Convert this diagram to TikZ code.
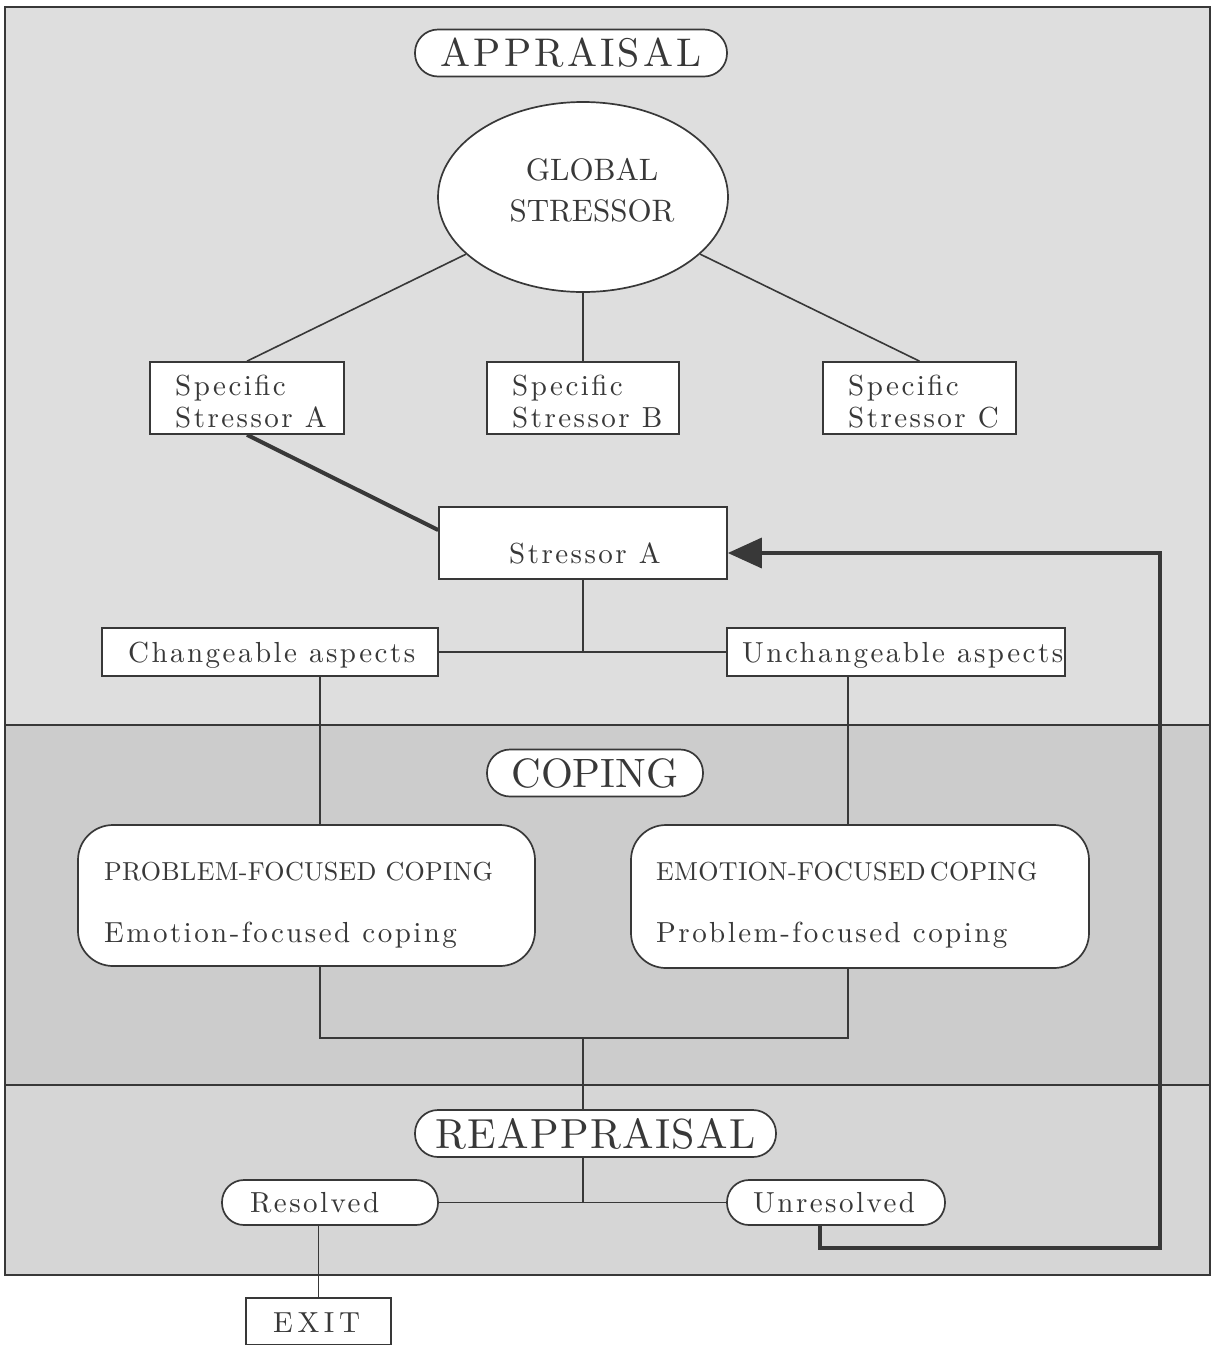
\documentclass[tikz,border=0pt]{standalone}
\usepackage{fontspec}
\usetikzlibrary{shapes.geometric,arrows.meta}
\newfontfamily\lblfont{lmroman10-regular}[Extension=.otf, LetterSpace=8.5]
\newfontfamily\ttlfont{lmroman10-regular}[Extension=.otf, LetterSpace=8]
\newfontfamily\copfont{lmroman10-regular}[Extension=.otf]
\newfontfamily\reapfont{lmroman10-regular}[Extension=.otf, LetterSpace=3.2]
\newfontfamily\exitfont{lmroman10-regular}[Extension=.otf, LetterSpace=16]
\newfontfamily\capfont{lmroman10-regular}[Extension=.otf, LetterSpace=1.2]
\newfontfamily\globfont{lmroman10-regular}[Extension=.otf]
\definecolor{ink}{gray}{0.22}
\definecolor{bgA}{gray}{0.87}
\definecolor{bgB}{gray}{0.80}
\definecolor{bgC}{gray}{0.84}
\tikzset{
  ln/.style={draw=ink, line width=1.6pt},
  boxs/.style={draw=ink, line width=1.7pt, fill=white, text=ink, inner sep=0pt},
  pill/.style={boxs, rounded corners=#1},
  lbl/.style={font=\lblfont\fontsize{29}{32}\selectfont, text=ink, inner sep=0pt},
  capl/.style={font=\capfont\fontsize{26}{30}\selectfont, text=ink, inner sep=0pt},
  fb/.style={draw=ink, line width=3.5pt, -{Triangle[length=34pt,width=30pt]}},
}
\begin{document}
\begin{tikzpicture}[x=1pt,y=-1pt]
\useasboundingbox (0,0) rectangle (1217,1345);
% bands
\fill[bgA] (5,7) rectangle (1210,725);
\fill[bgB] (5,725) rectangle (1210,1085);
\fill[bgC] (5,1085) rectangle (1210,1275);
\draw[ln] (5,7) rectangle (1210,1275);
\draw[ln] (5,725) -- (1210,725);
\draw[ln] (5,1085) -- (1210,1085);

% APPRAISAL section
\node[pill=23pt, font=\ttlfont\fontsize{40}{44}\selectfont, minimum width=312pt, minimum height=47pt] (appr) at (571,53) {APPRAISAL};
\node[boxs, ellipse, minimum width=290pt, minimum height=190pt] (glob) at (583,197) {};
\node[text=ink, align=center, font=\globfont\fontsize{31}{41}\selectfont, inner sep=0pt] (globt) at (592,190) {GLOBAL\\STRESSOR};

\node[boxs, minimum width=194pt, minimum height=72pt] (spA) at (247,398) {};
\node[lbl, anchor=base west] (spAa) at (175,395) {Specific};
\node[lbl, anchor=base west] (spAb) at (175,427) {Stressor A};
\node[boxs, minimum width=192pt, minimum height=72pt] (spB) at (583,398) {};
\node[lbl, anchor=base west] (spBa) at (512,395) {Specific};
\node[lbl, anchor=base west] (spBb) at (512,427) {Stressor B};
\node[boxs, minimum width=193pt, minimum height=72pt] (spC) at (919.5,398) {};
\node[lbl, anchor=base west] (spCa) at (848,395) {Specific};
\node[lbl, anchor=base west] (spCb) at (848,427) {Stressor C};

\node[boxs, minimum width=288pt, minimum height=72pt] (stA) at (583,543) {};
\node[lbl, anchor=base west] (stAt) at (509,563) {Stressor A};

\node[boxs, minimum width=336pt, minimum height=48pt] (chg) at (270,652) {};
\node[lbl, anchor=base west] (chgt) at (128,662) {Changeable aspects};
\node[boxs, minimum width=338pt, minimum height=48pt] (unch) at (896,652) {};
\node[lbl, anchor=base west] (uncht) at (742,662) {Unchangeable aspects};

% COPING section
\node[pill=23pt, font=\copfont\fontsize{41}{44}\selectfont, minimum width=216pt, minimum height=47pt] (cop) at (595,773) {COPING};

\node[boxs, rounded corners=35pt, minimum width=457pt, minimum height=141pt] (prob) at (306.5,895.5) {};
\node[capl, anchor=base west] (probA) at (104,880) {PROBLEM-FOCUSED COPING};
\node[lbl, anchor=base west] (probB) at (104,942) {Emotion-focused coping};
\node[boxs, rounded corners=35pt, minimum width=458pt, minimum height=143pt] (emo) at (860,896.5) {};
\node[capl, anchor=base west] (emoA) at (656,880) {EMOTION-FOCUSED\,COPING};
\node[lbl, anchor=base west] (emoB) at (656,942) {Problem-focused coping};

\coordinate (join) at (583,1038);

% REAPPRAISAL section
\node[pill=23pt, font=\reapfont\fontsize{42}{46}\selectfont, minimum width=361pt, minimum height=47pt] (reap) at (595.5,1133.5) {REAPPRAISAL};
\node[pill=22pt, minimum width=216pt, minimum height=45pt] (res) at (330,1202.5) {};
\node[lbl, anchor=base west] (rest) at (250,1212) {Resolved};
\node[pill=22pt, minimum width=218pt, minimum height=45pt] (unres) at (836,1202.5) {};
\node[lbl, anchor=base west] (unrest) at (753,1212) {Unresolved};
\node[boxs, minimum width=145pt, minimum height=47pt] (exit) at (318.5,1321.5) {};
\node[font=\exitfont\fontsize{29}{32}\selectfont, text=ink, inner sep=0pt, anchor=base west] (exitt) at (273,1332) {EXIT};

% connectors
\draw[ln] (glob) -- (spA.north);
\draw[ln] (glob) -- (spB.north);
\draw[ln] (glob) -- (spC.north);
\draw[ln, line width=4pt] (spA.south) -- ([yshift=13pt]stA.west);
\draw[ln] (stA.south) -- (stA.south |- chg.east);
\draw[ln] (chg.east) -- (unch.west);
\draw[ln] ([xshift=50pt]chg.south) -- ([xshift=13.5pt]prob.north);
\draw[ln] ([xshift=-48pt]unch.south) -- ([xshift=-12pt]emo.north);
\draw[ln] ([xshift=13.5pt]prob.south) |- (join) -| ([xshift=-12pt]emo.south);
\draw[ln] (join) -- (join |- reap.north);
\draw[ln] (join |- reap.south) -- (join |- res.east);
\draw[ln] (res.east) -- (unres.west);
\draw[ln] (res.south -| exit.north) -- (exit.north);
\draw[fb] ([xshift=-16pt]unres.south) |- (1160,1248) |- ([yshift=-10pt]stA.east);
\end{tikzpicture}
\end{document}
